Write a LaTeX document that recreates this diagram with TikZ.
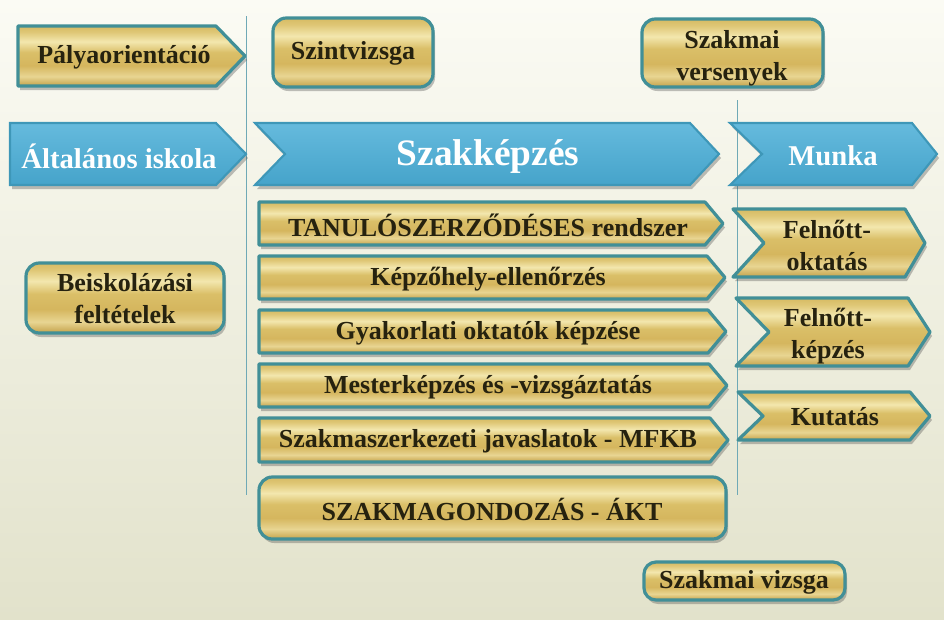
\documentclass[tikz,border=0pt]{standalone}
\usepackage{fontspec}
\setmainfont{Liberation Serif}
\usetikzlibrary{shadows}
\definecolor{bgTop}{HTML}{FBFBF4}
\definecolor{bgBot}{HTML}{E2E2CB}
\definecolor{gBot}{HTML}{C4A24A}
\definecolor{gLtA}{HTML}{E8D592}
\definecolor{gMidA}{HTML}{D5B65E}
\definecolor{gMidB}{HTML}{DABF68}
\definecolor{gLtB}{HTML}{F3E7AE}
\definecolor{gTopA}{HTML}{DFC776}
\definecolor{gTop}{HTML}{D6BA62}
\definecolor{tealLine}{HTML}{418F97}
\definecolor{blueFill}{HTML}{4AAED7}
\definecolor{blueLine}{HTML}{3E97B8}
\definecolor{txtDark}{HTML}{26220F}
\definecolor{sepLine}{HTML}{6FA9B6}
\pgfdeclareverticalshading{goldband}{100bp}{%
  color(0bp)=(gBot); color(25bp)=(gBot); color(33bp)=(gLtA); color(42bp)=(gMidA);
  color(53bp)=(gMidB); color(62bp)=(gLtB); color(70bp)=(gTopA); color(75bp)=(gTop); color(100bp)=(gTop)}
\tikzset{
  goldshape/.style={draw=tealLine, line width=2.4pt, line join=round, shading=goldband,
    drop shadow={shadow xshift=1.5pt, shadow yshift=-3pt, opacity=0.35, fill=black!70}},
  blueshape/.style={draw=blueLine, line width=1.6pt, line join=miter,
    top color=blueFill!85!white, bottom color=blueFill!94!black,
    drop shadow={shadow xshift=1.5pt, shadow yshift=-3pt, opacity=0.35, fill=black!70}},
  gtext/.style={text=txtDark, font=\fontsize{19.5}{24}\selectfont\bfseries, align=center, inner sep=0pt},
  btext/.style={text=white, font=\fontsize{21.5}{24}\selectfont\bfseries, inner sep=0pt},
  bigtext/.style={text=white, font=\fontsize{28}{30}\selectfont\bfseries, inner sep=0pt},
  sep/.style={draw=sepLine, line width=0.7pt}
}
% #1 style, #2 x1, #3 y1, #4 x2, #5 y2, #6 notch depth, #7 tip depth
\newcommand{\arrowShape}[7]{%
  \path[#1] (#2,#3) -- ({#4-#7},#3) -- (#4,{(#3+#5)/2}) -- ({#4-#7},#5) -- (#2,#5) -- ({#2+#6},{(#3+#5)/2}) -- cycle;}
\begin{document}
\begin{tikzpicture}[x=0.75pt,y=-0.75pt]
\useasboundingbox (0,0) rectangle (944,619);
\shade[top color=bgTop, bottom color=bgBot] (0,0) rectangle (944,619);

% separator lines
\coordinate (s1a) at (246,16); \coordinate (s1b) at (246,495);
\coordinate (s2a) at (737,100); \coordinate (s2b) at (737,495);
\draw[sep] (s1a) -- (s1b);
\draw[sep] (s2a) -- (s2b);

% top row
\arrowShape{goldshape}{18}{26}{245}{86}{0}{29}
\node[gtext] (pal) at (124,57) {Pályaorientáció};
\path[goldshape, rounded corners=10] (273,18) rectangle (433,87);
\node[gtext] (szint) at (353,53) {Szintvizsga};
\path[goldshape, rounded corners=10] (642,19) rectangle (823,87);
\node[gtext] (verseny) at (732,58) {Szakmai\\versenyek};

% blue row
\arrowShape{blueshape}{10}{123}{246}{185}{0}{30}
\node[btext] (alt) at (119,156) {Általános iskola};
\arrowShape{blueshape}{255}{123}{719}{185}{30}{29}
\node[bigtext] (szak) at (488,156) {Szakképzés};
\arrowShape{blueshape}{730}{123}{937}{185}{32}{25}
\node[btext] (munka) at (833,156) {Munka};

% left
\path[goldshape, rounded corners=10] (26,263) rectangle (224,333);
\node[gtext] (beisk) at (125,299) {Beiskolázási\\feltételek};

% middle column
\arrowShape{goldshape}{259}{202}{723}{245}{0}{18}
\node[gtext] (tan) at (488,225) {TANULÓSZERZŐDÉSES rendszer};
\arrowShape{goldshape}{259}{256}{725}{299}{0}{18}
\node[gtext] (kh) at (488,279) {Képzőhely-ellenőrzés};
\arrowShape{goldshape}{259}{310}{726}{353}{0}{18}
\node[gtext] (gyak) at (488,333) {Gyakorlati oktatók képzése};
\arrowShape{goldshape}{259}{364}{727}{407}{0}{18}
\node[gtext] (mester) at (488,387) {Mesterképzés és -vizsgáztatás};
\arrowShape{goldshape}{259}{418}{728}{462}{0}{18}
\node[gtext] (mfkb) at (488,441) {Szakmaszerkezeti javaslatok - MFKB};
\path[goldshape, rounded corners=10] (259,477) rectangle (726,539);
\node[gtext] (akt) at (492,509) {SZAKMAGONDOZÁS - ÁKT};

% right column
\arrowShape{goldshape}{733}{209}{925}{277}{31}{20}
\node[gtext] (fo) at (827,245) {Felnőtt-\\oktatás};
\arrowShape{goldshape}{736}{298}{930}{366}{33}{22}
\node[gtext] (fk) at (828,336) {Felnőtt-\\képzés};
\arrowShape{goldshape}{738}{392}{930}{440}{25}{20}
\node[gtext] (kut) at (835,417) {Kutatás};

% bottom
\path[goldshape, rounded corners=9] (644,562) rectangle (845,600);
\node[gtext] (vizsga) at (744,582) {Szakmai vizsga};
\end{tikzpicture}
\end{document}
